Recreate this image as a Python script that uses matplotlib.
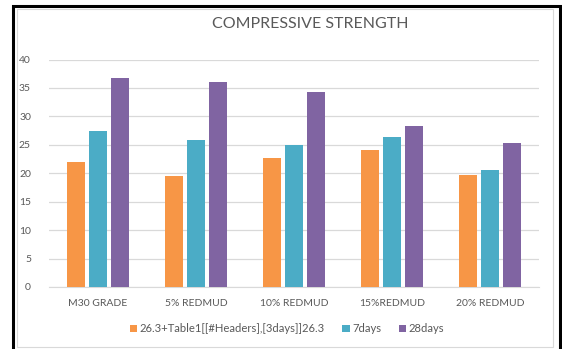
import matplotlib
matplotlib.use("Agg")
import matplotlib.pyplot as plt
import numpy as np
from matplotlib.patches import Rectangle

categories = ["M30 GRADE", "5% REDMUD", "10% REDMUD", "15%REDMUD", "20% REDMUD"]
series_names = ["26.3+Table1[[#Headers],[3days]]26.3", "7days", "28days"]
days3 = [22.0, 19.5, 22.7, 24.1, 19.7]
days7 = [27.4, 25.9, 25.0, 26.4, 20.6]
days28 = [36.8, 36.1, 34.3, 28.3, 25.3]
colors = ["#F79646", "#4BACC6", "#8064A2"]
yticks = [0, 5, 10, 15, 20, 25, 30, 35, 40]

plt.rcParams['font.family'] = ['Lato', 'DejaVu Sans']
W, H = 562, 349
fig = plt.figure(figsize=(W/100, H/100), dpi=100)

# borders
fig.patches.append(Rectangle((13/W, -0.05), (560-13)/W, 0.05 + (349-6)/H, transform=fig.transFigure,
                             fill=False, edgecolor="black", linewidth=2.2))
fig.patches.append(Rectangle((16.5/W, 2/H), (553-16.5)/W, (340-2)/H, transform=fig.transFigure,
                             fill=False, edgecolor="#D9D9D9", linewidth=0.8))

ax = fig.add_axes([49/W, 1-287/H, (539-49)/W, (287-59.5)/H])
x = np.arange(len(categories))
bw = 0.184
step = 0.224
for i, (vals, name) in enumerate(zip([days3, days7, days28], series_names)):
    ax.bar(x + (i-1)*step, vals, width=bw, color=colors[i], label=name, zorder=3)

ax.set_xlim(-0.5, len(categories)-0.5)
ax.set_ylim(0, 40)
ax.set_yticks(yticks)
ax.set_xticks(x)
ax.set_xticklabels(categories)
ax.grid(axis='y', color="#D9D9D9", linewidth=0.9, zorder=0)
for s in ["top", "right", "left"]:
    ax.spines[s].set_visible(False)
ax.spines["bottom"].set_color("#D9D9D9")
ax.tick_params(axis='both', length=0, colors="#595959", labelsize=7.5)
ax.tick_params(axis='y', pad=13)
ax.tick_params(axis='x', pad=9)

fig.text(310/W, 1-23.5/H, "COMPRESSIVE STRENGTH", ha="center", va="center",
         fontsize=11.5, color="#595959")

leg = fig.legend(loc="center", bbox_to_anchor=(287/W, 1-329/H), ncol=3, frameon=False,
                 fontsize=8.1, handlelength=0.65, handleheight=0.65, handletextpad=0.2,
                 columnspacing=1.6, labelcolor="#595959")

fig.savefig("out.png", dpi=100)
